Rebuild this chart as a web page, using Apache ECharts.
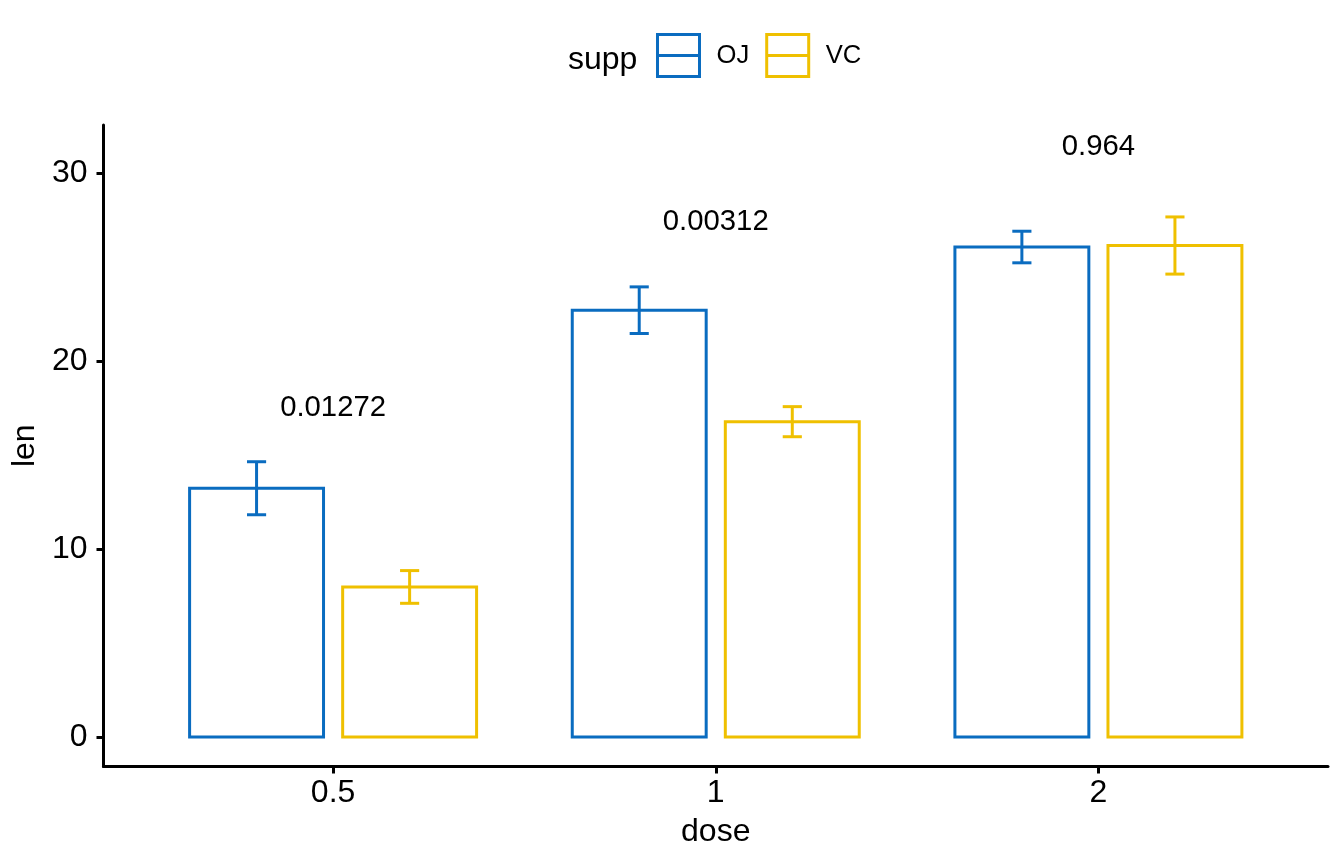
<!DOCTYPE html>
<html>
<head>
<meta charset="utf-8">
<script src="https://cdn.jsdelivr.net/npm/echarts@6/dist/echarts.min.js"></script>
<style>
  html, body { margin: 0; padding: 0; background: #fff; }
  #chart { width: 1344px; height: 864px; }
</style>
</head>
<body>
<div id="chart"></div>
<script>
const doses = ['0.5', '1', '2']
const ojMean = [13.23, 22.70, 26.06]
const ojSe = [1.41, 1.24, 0.84]
const vcMean = [7.98, 16.77, 26.14]
const vcSe = [0.87, 0.80, 1.52]
const pLabels = ['0.01272', '0.00312', '0.964']
const pLabelY = [17.5, 27.4, 31.4]
const yTicks = [0, 10, 20, 30]

const font = "'Liberation Sans', Arial, sans-serif"
const ojColor = '#0a6cc0'
const vcColor = '#EFC000'
const barWidth = 0.35
const capWidth = 0.05

function barSeries(name, means, ses, offset, color) {
  return {
    name: name,
    type: 'custom',
    itemStyle: { color: color },
    encode: { x: 0, y: 1 },
    data: means.map((m, i) => [i + 1, m, ses[i]]),
    renderItem: (params, api) => {
      const x = api.value(0) + offset
      const m = api.value(1)
      const se = api.value(2)
      const p0 = api.coord([x - barWidth / 2, 0])
      const p1 = api.coord([x + barWidth / 2, m])
      const lo = api.coord([x, m - se])
      const hi = api.coord([x, m + se])
      const capL = api.coord([x - capWidth / 2, 0])[0]
      const capR = api.coord([x + capWidth / 2, 0])[0]
      const line = { stroke: color, lineWidth: 3 }
      return {
        type: 'group',
        children: [
          {
            type: 'rect',
            shape: { x: p0[0], y: p1[1], width: p1[0] - p0[0], height: p0[1] - p1[1] },
            style: { fill: '#fff', stroke: color, lineWidth: 3 }
          },
          { type: 'line', shape: { x1: lo[0], y1: lo[1], x2: hi[0], y2: hi[1] }, style: line },
          { type: 'line', shape: { x1: capL, y1: lo[1], x2: capR, y2: lo[1] }, style: line },
          { type: 'line', shape: { x1: capL, y1: hi[1], x2: capR, y2: hi[1] }, style: line }
        ]
      }
    }
  }
}

const chart = echarts.init(document.getElementById('chart'))
const legendIcon = 'path://M0,0L44,0L44,44L0,44Z M0,22L44,22'

chart.setOption({
  animation: false,
  backgroundColor: '#fff',
  title: {
    text: 'supp',
    left: 568,
    top: 44,
    padding: 0,
    textStyle: { fontFamily: font, fontSize: 32, fontWeight: 'normal', color: '#000' }
  },
  legend: {
    left: 656,
    top: 33,
    padding: 0,
    itemWidth: 42,
    itemHeight: 43,
    itemGap: 16,
    textStyle: { fontFamily: font, fontSize: 25.6, color: '#000', padding: [4, 0, 0, 12] },
    data: [
      { name: 'OJ', icon: legendIcon, itemStyle: { color: 'rgba(0,0,0,0)', borderColor: ojColor, borderWidth: 3 } },
      { name: 'VC', icon: legendIcon, itemStyle: { color: 'rgba(0,0,0,0)', borderColor: vcColor, borderWidth: 3 } }
    ]
  },
  grid: { left: 103.5, right: 16, top: 125, bottom: 97.5, containLabel: false },
  xAxis: {
    type: 'value',
    min: 0.4,
    max: 3.6,
    name: 'dose',
    nameLocation: 'middle',
    nameGap: 50,
    nameTextStyle: { fontFamily: font, fontSize: 32, color: '#000' },
    splitLine: { show: false },
    axisLine: { onZero: false, lineStyle: { color: '#000', width: 3 } },
    axisTick: { customValues: [1, 2, 3], length: 7, lineStyle: { color: '#000', width: 3 } },
    axisLabel: {
      customValues: [1, 2, 3],
      formatter: v => doses[Math.round(v) - 1],
      margin: 11,
      fontFamily: font,
      fontSize: 32,
      color: '#000'
    }
  },
  yAxis: {
    type: 'value',
    min: -1.57,
    max: 32.55,
    name: 'len',
    nameLocation: 'middle',
    nameGap: 56,
    nameTextStyle: { fontFamily: font, fontSize: 32, color: '#000' },
    splitLine: { show: false },
    axisLine: { show: true, onZero: false, lineStyle: { color: '#000', width: 3 } },
    axisTick: { show: true, customValues: yTicks, length: 7, lineStyle: { color: '#000', width: 3 } },
    axisLabel: {
      customValues: yTicks,
      margin: 16,
      fontFamily: font,
      fontSize: 32,
      color: '#000'
    }
  },
  series: [
    barSeries('OJ', ojMean, ojSe, -0.2, ojColor),
    barSeries('VC', vcMean, vcSe, 0.2, vcColor),
    {
      name: 'p',
      type: 'custom',
      encode: { x: 0, y: 1 },
      data: pLabels.map((t, i) => [i + 1, pLabelY[i], t]),
      renderItem: (params, api) => {
        const p = api.coord([api.value(0), api.value(1)])
        return {
          type: 'text',
          style: {
            text: pLabels[params.dataIndex],
            x: p[0],
            y: p[1],
            align: 'center',
            verticalAlign: 'middle',
            fontFamily: font,
            fontSize: 29.3,
            fill: '#000'
          }
        }
      }
    }
  ]
})
</script>
</body>
</html>
